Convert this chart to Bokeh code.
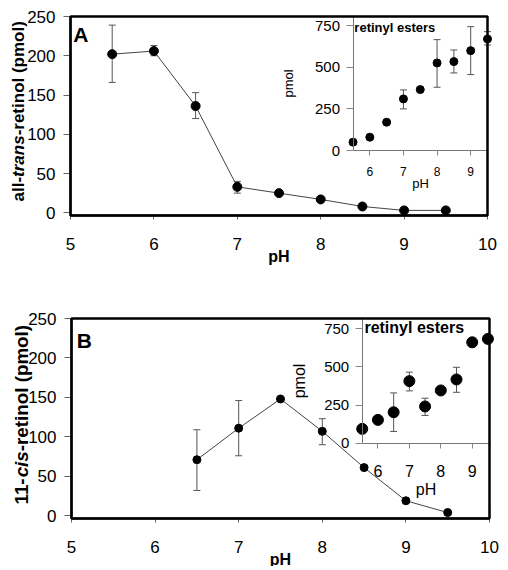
import math
from bokeh.plotting import figure
from bokeh.models import Range1d, LinearAxis, FixedTicker, Label, BoxAnnotation
from bokeh.layouts import column
from bokeh.embed import file_html
from bokeh.resources import INLINE

FONT = "Liberation Sans"

# ---------------- data ----------------
main_xticks = [5, 6, 7, 8, 9, 10]
main_yticks = [0, 50, 100, 150, 200, 250]
ins_xticks = [6, 7, 8, 9]
ins_yticks = [0, 250, 500, 750]

# Panel A: all-trans-retinol
a_ph = [5.5, 6, 6.5, 7, 7.5, 8, 8.5, 9, 9.5]
a_retinol = [202, 206, 136, 33, 25, 17, 8, 3, 3]
a_err_ph = [5.5, 6, 6.5, 7]
a_err_lo = [166, 200, 120, 25]
a_err_hi = [239, 213, 153, 40]
a_ins_ph = [5.5, 6, 6.5, 7, 7.5, 8, 8.5, 9, 9.5]
a_ins_esters = [50, 80, 170, 310, 366, 526, 534, 600, 670]
a_ins_err_ph = [7, 8, 8.5, 9, 9.5]
a_ins_err_lo = [250, 380, 466, 456, 634]
a_ins_err_hi = [364, 666, 604, 744, 714]
a_ylabel = [("all-", "bold"), ("trans", "bold italic"), ("-retinol (pmol)", "bold")]

# Panel B: 11-cis-retinol
b_ph = [6.5, 7, 7.5, 8, 8.5, 9, 9.5]
b_retinol = [71, 111, 148, 107, 61, 19, 4]
b_err_ph = [6.5, 7, 8]
b_err_lo = [32, 76, 90]
b_err_hi = [109, 146, 123]
b_ins_ph = [5.5, 6, 6.5, 7, 7.5, 8, 8.5, 9, 9.5]
b_ins_esters = [94, 153, 203, 407, 241, 346, 418, 662, 684]
b_ins_err_ph = [6.5, 7, 7.5, 8.5]
b_ins_err_lo = [77, 343, 182, 334]
b_ins_err_hi = [330, 466, 295, 498]
b_ylabel = [("11-", "bold"), ("cis", "bold italic"), ("-retinol (pmol)", "bold")]

# Arial/Liberation Sans Bold advance widths (em/1000) used to chain label pieces
BOLD_W = {" ": 278, "(": 333, ")": 333, "-": 333, "1": 556, "a": 556, "c": 556,
          "e": 556, "i": 278, "l": 278, "m": 889, "n": 611, "o": 611, "p": 611,
          "r": 389, "s": 556, "t": 333}

XLIM = (5, 10)
YLIM = (-3.5, 250)


def text_len(s, px):
    return sum(BOLD_W.get(ch, 556) for ch in s) / 1000.0 * px


def linked_range(outer_lo, outer_hi, at_lo, at_hi, v_lo, v_hi):
    k = (v_hi - v_lo) / (at_hi - at_lo)
    return Range1d(v_lo + (outer_lo - at_lo) * k, v_lo + (outer_hi - at_lo) * k)


def errbars(p, xs, lo, hi, cap, color, **kw):
    p.segment(x0=xs, y0=lo, x1=xs, y1=hi, line_color=color, line_width=1, **kw)
    p.scatter(x=xs + xs, y=lo + hi, marker="dash", size=cap, line_color=color,
              line_width=1, **kw)


def style_axis(ax, tick_size, label_size, label_style, line_color, line_width, tick_color):
    ax.axis_line_color = line_color
    ax.axis_line_width = line_width
    ax.major_tick_line_color = tick_color
    ax.major_tick_in = 0
    ax.minor_tick_line_color = None
    ax.major_label_text_font = FONT
    ax.major_label_text_font_size = tick_size
    ax.major_label_text_color = "black"
    ax.axis_label_text_font = FONT
    ax.axis_label_text_font_size = label_size
    ax.axis_label_text_font_style = label_style
    ax.axis_label_text_color = "black"


def panel(letter, ylabel, ph, vals, eph, elo, ehi, iph, ivals, ieph, ielo, iehi,
          fx, fy, ix_hi, iy_hi, frame_w, frame_h, left_w, right_w, top_h, bottom_h,
          msize, imsize, ins_tick_size, ins_xtick_size, ins_label_size, re_size,
          letter_xy, re_xy, ix_standoff, ix_label_standoff, iy_label_standoff,
          ylab_px, ylab_dx, ylab_up):
    # the drawing area covers the whole figure; the data box is drawn inside it
    ux = (XLIM[1] - XLIM[0]) / frame_w
    uy = (YLIM[1] - YLIM[0]) / frame_h
    xr = (XLIM[0] - left_w * ux, XLIM[1] + right_w * ux)
    yr = (YLIM[0] - bottom_h * uy, YLIM[1] + top_h * uy)
    p = figure(frame_width=frame_w + left_w + right_w, frame_height=frame_h + top_h + bottom_h,
               x_range=Range1d(*xr), y_range=Range1d(*yr),
               x_axis_location=None, y_axis_location=None,
               output_backend="svg", toolbar_location=None,
               min_border=0)
    at_x = XLIM[0] + fx * (XLIM[1] - XLIM[0])
    at_y = YLIM[0] + fy * (YLIM[1] - YLIM[0])
    p.extra_x_ranges = {"ix": linked_range(xr[0], xr[1], at_x, XLIM[1], 5.5, ix_hi)}
    p.extra_y_ranges = {"iy": linked_range(yr[0], yr[1], at_y, YLIM[1], 0, iy_hi)}
    p.xgrid.visible = False
    p.ygrid.visible = False
    p.outline_line_color = None
    p.background_fill_color = "white"
    p.border_fill_color = "white"

    xa = LinearAxis(fixed_location=YLIM[0], bounds=XLIM, ticker=FixedTicker(ticks=main_xticks),
                    axis_label="pH")
    style_axis(xa, "17px", "16px", "bold", "black", 2, "#666666")
    xa.major_tick_out = 4
    xa.major_label_standoff = 18
    xa.axis_label_standoff = -5
    p.add_layout(xa, "below")

    ya = LinearAxis(fixed_location=XLIM[0], bounds=YLIM, ticker=FixedTicker(ticks=main_yticks))
    style_axis(ya, "17px", "16px", "bold", "black", 2, "#666666")
    ya.major_tick_out = 7
    ya.major_label_standoff = 8
    p.add_layout(ya, "left")

    p.add_layout(BoxAnnotation(left=XLIM[0], right=XLIM[1], bottom=YLIM[0], top=YLIM[1],
                               fill_alpha=0, line_color="black", line_alpha=1.0,
                               line_width=2.5))

    # y-axis title with an italic part, built from consecutive rotated pieces
    xl = XLIM[0] + ylab_dx * ux
    pos = ylab_up
    for txt, style in ylabel:
        p.add_layout(Label(x=xl, y=YLIM[0] + pos * uy, text=txt, angle=math.pi / 2,
                           text_font=FONT, text_font_size=f"{ylab_px}px",
                           text_font_style=style, text_color="black",
                           text_align="left", text_baseline="middle"))
        pos += text_len(txt, ylab_px)

    # main series
    errbars(p, eph, elo, ehi, 7, "#555555")
    p.line(ph, vals, line_color="#444444", line_width=1)
    p.scatter(ph, vals, size=msize, color="black")

    # inset axes
    ins_kw = dict(x_range_name="ix", y_range_name="iy")
    iya = LinearAxis(fixed_location=5.5, bounds=(0, iy_hi),
                     ticker=FixedTicker(ticks=ins_yticks), axis_label="pmol", **ins_kw)
    ixa = LinearAxis(fixed_location=0, bounds=(5.5, ix_hi),
                     ticker=FixedTicker(ticks=ins_xticks), axis_label="pH", **ins_kw)
    style_axis(iya, ins_tick_size, ins_label_size, "normal", "#777777", 1, "#888888")
    style_axis(ixa, ins_xtick_size, ins_label_size, "normal", "#777777", 1, "#888888")
    iya.major_tick_out = 7
    iya.major_label_standoff = 6
    iya.axis_label_standoff = iy_label_standoff
    ixa.major_tick_out = 5
    ixa.major_label_standoff = ix_standoff
    ixa.axis_label_standoff = ix_label_standoff
    p.add_layout(iya, "left")
    p.add_layout(ixa, "below")

    errbars(p, ieph, ielo, iehi, 7, "#555555", **ins_kw)
    p.scatter(iph, ivals, size=imsize, color="black", **ins_kw)

    p.add_layout(Label(x=re_xy[0], y=re_xy[1], text="retinyl esters", text_font=FONT,
                       text_font_size=re_size, text_font_style="bold", text_color="black",
                       text_baseline="top", text_align="left", **ins_kw))
    p.add_layout(Label(x=letter_xy[0], y=letter_xy[1], text=letter, text_font=FONT,
                       text_font_size="21px", text_font_style="bold", text_color="black",
                       text_baseline="top", text_align="left"))
    return p


pA = panel("A", a_ylabel, a_ph, a_retinol, a_err_ph, a_err_lo, a_err_hi,
           a_ins_ph, a_ins_esters, a_ins_err_ph, a_ins_err_lo, a_ins_err_hi,
           fx=0.6775, fy=0.3266, ix_hi=9.5, iy_hi=805,
           frame_w=417, frame_h=199, left_w=70, right_w=16, top_h=16, bottom_h=70,
           msize=9, imsize=8, ins_tick_size="15px", ins_xtick_size="12px",
           ins_label_size="13px", re_size="13px",
           letter_xy=(5.034, 242), re_xy=(5.54, 786),
           ix_standoff=11, ix_label_standoff=-3, iy_label_standoff=16,
           ylab_px=17, ylab_dx=-52.5, ylab_up=14)

pB = panel("B", b_ylabel, b_ph, b_retinol, b_err_ph, b_err_lo, b_err_hi,
           b_ins_ph, b_ins_esters, b_ins_err_ph, b_ins_err_lo, b_ins_err_hi,
           fx=0.6955, fy=0.3765, ix_hi=9.55, iy_hi=818,
           frame_w=418, frame_h=200, left_w=71, right_w=14, top_h=33, bottom_h=48,
           msize=8, imsize=11, ins_tick_size="15px", ins_xtick_size="16px",
           ins_label_size="16px", re_size="16px",
           letter_xy=(5.064, 237), re_xy=(5.57, 818),
           ix_standoff=17, ix_label_standoff=0, iy_label_standoff=13,
           ylab_px=18.8, ylab_dx=-50, ylab_up=14)

layout = column(pA, pB)
open("out.html", "w").write(file_html(layout, INLINE))
